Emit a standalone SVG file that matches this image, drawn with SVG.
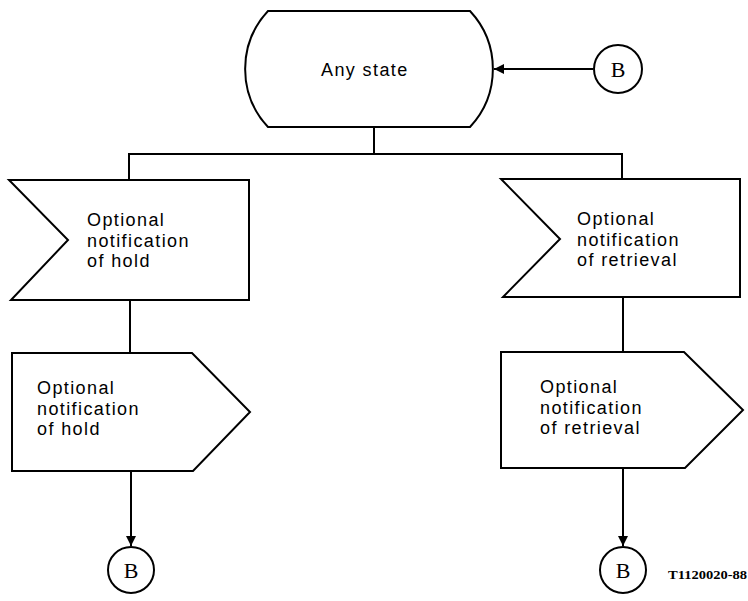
<svg xmlns="http://www.w3.org/2000/svg" width="748" height="601" viewBox="0 0 748 601">
  <style>
    .shape { fill: #fff; stroke: #000; stroke-width: 2; stroke-linejoin: miter; }
    .line { fill: none; stroke: #000; stroke-width: 2; }
    .label { font-family: "Liberation Sans", Arial, sans-serif; font-size: 18px; letter-spacing: 1.4px; fill: #000; }
    .conn { font-family: "Liberation Serif", serif; font-size: 22px; fill: #000; text-anchor: middle; }
    .ref { font-family: "Liberation Serif", serif; font-size: 13px; font-weight: bold; fill: #000; }
  </style>
  <defs>
    <marker id="arrow" viewBox="0 0 10 10" refX="10" refY="5" markerWidth="10" markerHeight="10" markerUnits="userSpaceOnUse" orient="auto">
      <path d="M0,0 L10,5 L0,10 Z" fill="#000"/>
    </marker>
  </defs>

  <rect width="748" height="601" fill="#fff"/>

  <!-- connectors -->
  <g id="connectors">
    <line class="line" x1="593" y1="69" x2="494" y2="69" marker-end="url(#arrow)"/>
    <line class="line" x1="374" y1="127" x2="374" y2="154"/>
    <polyline class="line" points="129,180 129,154 622,154 622,180"/>
    <line class="line" x1="130" y1="300" x2="130" y2="353"/>
    <line class="line" x1="623" y1="297" x2="623" y2="352"/>
    <line class="line" x1="131" y1="471" x2="131" y2="546" marker-end="url(#arrow)"/>
    <line class="line" x1="623" y1="468" x2="623" y2="546" marker-end="url(#arrow)"/>
  </g>

  <!-- state -->
  <g id="any-state">
    <path class="shape" d="M268,11 L470,11 A85,85 0 0 1 470,127 L268,127 A85,85 0 0 1 268,11 Z"/>
    <text class="label" x="321" y="76">Any state</text>
  </g>

  <!-- connector B into state -->
  <g id="conn-b-top">
    <circle class="shape" cx="618" cy="69" r="24"/>
    <text class="conn" x="618" y="77">B</text>
  </g>

  <!-- input signals -->
  <g id="input-hold">
    <path class="shape" d="M9,180 L249,180 L249,300 L11,300 L68,240 Z"/>
    <text class="label" x="87" y="226">Optional</text>
    <text class="label" x="87" y="246.5">notification</text>
    <text class="label" x="87" y="267">of hold</text>
  </g>

  <g id="input-retrieval">
    <path class="shape" d="M501,179 L740,179 L740,297 L503,297 L560,239 Z"/>
    <text class="label" x="577" y="225">Optional</text>
    <text class="label" x="577" y="245.5">notification</text>
    <text class="label" x="577" y="266">of retrieval</text>
  </g>

  <!-- output signals -->
  <g id="output-hold">
    <path class="shape" d="M12,353 L192,353 L250,412 L193,471 L12,471 Z"/>
    <text class="label" x="37" y="394">Optional</text>
    <text class="label" x="37" y="414.5">notification</text>
    <text class="label" x="37" y="435">of hold</text>
  </g>

  <g id="output-retrieval">
    <path class="shape" d="M501,352 L684,352 L743,410 L685,468 L501,468 Z"/>
    <text class="label" x="540" y="393">Optional</text>
    <text class="label" x="540" y="413.5">notification</text>
    <text class="label" x="540" y="434">of retrieval</text>
  </g>

  <!-- connector B outputs -->
  <g id="conn-b-left">
    <circle class="shape" cx="131" cy="570" r="23"/>
    <text class="conn" x="131" y="578">B</text>
  </g>
  <g id="conn-b-right">
    <circle class="shape" cx="623" cy="570" r="23"/>
    <text class="conn" x="623" y="578">B</text>
  </g>

  <text class="ref" x="668" y="579" textLength="79" lengthAdjust="spacingAndGlyphs">T1120020-88</text>
</svg>
